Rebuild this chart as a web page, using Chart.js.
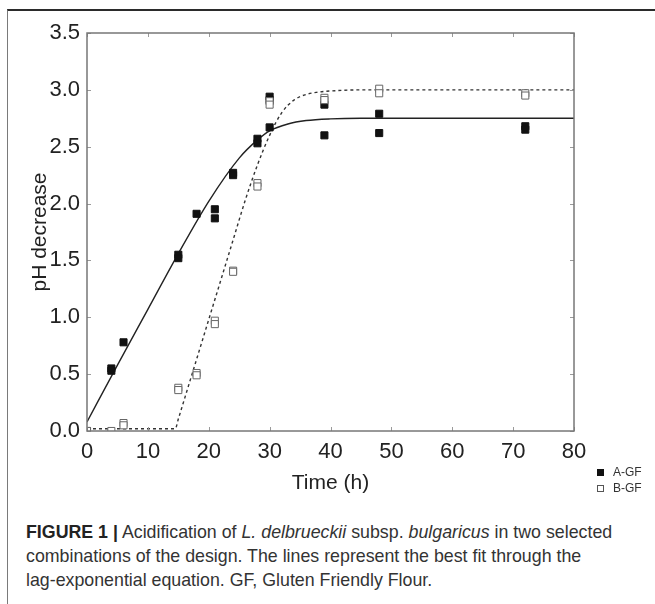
<!DOCTYPE html>
<html>
<head>
<meta charset="utf-8">
<script src="https://cdn.jsdelivr.net/npm/chart.js@4"></script>
<style>
  body { margin: 0; background: #fff; width: 655px; height: 604px; position: relative; overflow: hidden;
         font-family: "Liberation Sans", Arial, sans-serif; }
  #frame { position: absolute; left: 7px; top: 9px; right: 0; bottom: 0;
           border-top: 2px solid #2b2b2b; border-left: 1.5px solid #7a7a7a; }
  #wrap { position: absolute; left: 0; top: 0; width: 655px; height: 502px; }
  #legend { position: absolute; left: 597px; top: 464px; font-size: 12px; line-height: 16px; color: #333; }
  #legend .sw { display: inline-block; width: 7px; height: 7px; margin-right: 9px; vertical-align: 0; box-sizing: border-box; }
  #legend .a { background: #111; }
  #legend .b { border: 1px solid #555; background: #fff; }
  #caption { position: absolute; left: 26px; top: 520px; font-size: 17.8px; line-height: 24px;
             color: #333; white-space: nowrap; }
  #caption b { color: #222; }
</style>
</head>
<body>
<div id="frame"></div>
<div id="wrap"><canvas id="chart"></canvas></div>
<div id="legend">
  <div><span class="sw a"></span>A-GF</div>
  <div><span class="sw b"></span>B-GF</div>
</div>
<div id="caption"><b>FIGURE 1 |</b> Acidification of <i>L. delbrueckii</i> subsp. <i>bulgaricus</i> in two selected<br>combinations of the design. The lines represent the best fit through the<br>lag-exponential equation. GF, Gluten Friendly Flour.</div>
<script>
// measured points
var timesA = [0, 4, 4, 6, 15, 15, 18, 21, 21, 24, 24, 28, 28, 30, 30, 30, 39, 39, 48, 48, 72, 72];
var phA = [0.0, 0.55, 0.53, 0.78, 1.55, 1.52, 1.91, 1.95, 1.87, 2.27, 2.25, 2.57, 2.53, 2.94, 2.91, 2.67, 2.87, 2.60, 2.79, 2.62, 2.68, 2.65];
var timesB = [0, 4, 6, 6, 15, 15, 18, 18, 21, 21, 24, 24, 28, 28, 30, 30, 39, 39, 48, 48, 72, 72];
var phB = [0.0, 0.0, 0.07, 0.05, 0.38, 0.36, 0.51, 0.49, 0.97, 0.94, 1.41, 1.40, 2.18, 2.15, 2.90, 2.87, 2.93, 2.91, 3.01, 2.97, 2.97, 2.95];

// fitted curves
var fitTimesA = [0, 5, 10, 15, 20, 25, 28, 30, 33, 36, 40, 45, 50, 60, 80];
var fitA = [0.08, 0.58, 1.07, 1.56, 2.02, 2.40, 2.56, 2.64, 2.70, 2.73, 2.745, 2.75, 2.75, 2.75, 2.75];
var fitTimesB = [0, 14.5, 15, 16, 18, 20, 22, 24, 26, 28, 30, 32, 34, 36, 38, 40, 45, 80];
var fitB = [0.02, 0.02, 0.105, 0.28, 0.63, 0.98, 1.33, 1.68, 2.03, 2.34, 2.60, 2.80, 2.91, 2.96, 2.98, 2.99, 3.0, 3.0];

var xTicks = [0, 10, 20, 30, 40, 50, 60, 70, 80];
var yTicks = [0, 0.5, 1.0, 1.5, 2.0, 2.5, 3.0, 3.5];

function pts(xs, ys) {
  return xs.map(function (x, i) { return { x: x, y: ys[i] }; });
}

var tickFont = { family: '"Liberation Sans", Arial', size: 22 };
var titleFont = { family: '"Liberation Sans", Arial', size: 21 };

// plot frame and small inward ticks
var frameTicks = {
  id: 'frameTicks',
  afterDatasetsDraw: function (chart) {
    var ctx = chart.ctx, a = chart.chartArea;
    var sx = chart.scales.x, sy = chart.scales.y;
    ctx.save();
    ctx.strokeStyle = '#9a9a9a';
    ctx.lineWidth = 1;
    sx.ticks.forEach(function (t) {
      var px = Math.round(sx.getPixelForValue(t.value)) + 0.5;
      ctx.beginPath();
      ctx.moveTo(px, a.top); ctx.lineTo(px, a.top + 4);
      ctx.moveTo(px, a.bottom); ctx.lineTo(px, a.bottom - 4);
      ctx.stroke();
    });
    sy.ticks.forEach(function (t) {
      var py = Math.round(sy.getPixelForValue(t.value)) + 0.5;
      ctx.beginPath();
      ctx.moveTo(a.left, py); ctx.lineTo(a.left + 4, py);
      ctx.moveTo(a.right, py); ctx.lineTo(a.right - 4, py);
      ctx.stroke();
    });
    ctx.strokeStyle = '#777';
    ctx.lineWidth = 1.5;
    ctx.strokeRect(a.left, a.top, a.right - a.left, a.bottom - a.top);
    ctx.restore();
  }
};

new Chart(document.getElementById('chart'), {
  type: 'scatter',
  data: {
    datasets: [
      {
        label: 'B-GF',
        data: pts(timesB, phB),
        pointStyle: 'rect',
        pointRadius: 5,
        backgroundColor: '#fff',
        borderColor: '#666',
        borderWidth: 1
      },
      {
        label: 'A-GF',
        data: pts(timesA, phA),
        pointStyle: 'rect',
        pointRadius: 5,
        backgroundColor: '#111',
        borderColor: '#111',
        borderWidth: 1
      },
      {
        label: 'fit A',
        data: pts(fitTimesA, fitA),
        showLine: true,
        pointRadius: 0,
        borderColor: '#222',
        borderWidth: 1.4,
        cubicInterpolationMode: 'monotone'
      },
      {
        label: 'fit B',
        data: pts(fitTimesB, fitB),
        showLine: true,
        pointRadius: 0,
        borderColor: '#333',
        borderWidth: 1.4,
        borderDash: [3, 3],
        cubicInterpolationMode: 'monotone'
      }
    ]
  },
  options: {
    responsive: true,
    maintainAspectRatio: false,
    animation: false,
    layout: { padding: { left: 0, top: 33, right: 81, bottom: 0 } },
    plugins: { legend: { display: false }, tooltip: { enabled: false } },
    scales: {
      x: {
        type: 'linear',
        min: 0, max: 80,
        afterBuildTicks: function (s) { s.ticks = xTicks.map(function (v) { return { value: v }; }); },
        afterFit: function (s) { s.height = 71; },
        grid: { display: false, drawTicks: false },
        border: { display: false },
        ticks: { padding: 8, color: '#222', font: tickFont },
        title: { display: true, text: 'Time (h)', color: '#222', font: titleFont, padding: { top: 0, bottom: 6 } }
      },
      y: {
        min: 0, max: 3.5,
        afterBuildTicks: function (s) { s.ticks = yTicks.map(function (v) { return { value: v }; }); },
        afterFit: function (s) { s.width = 87; },
        grid: { display: false, drawTicks: false },
        border: { display: false },
        ticks: { padding: 7, color: '#222', font: tickFont,
                 callback: function (v) { return v.toFixed(1); } },
        title: { display: true, text: 'pH decrease', color: '#222', font: titleFont, padding: { top: 28, bottom: 0 } }
      }
    }
  },
  plugins: [frameTicks]
});
</script>
</body>
</html>
